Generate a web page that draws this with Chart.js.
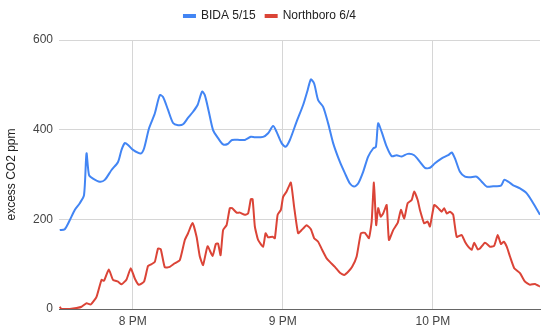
<!DOCTYPE html>
<html>
<head>
<meta charset="utf-8">
<script src="https://cdn.jsdelivr.net/npm/chart.js@4/dist/chart.umd.min.js"></script>
<style>
  html, body { margin: 0; padding: 0; background: #fff; }
  #wrap { width: 550px; height: 335px; position: relative; }
</style>
</head>
<body>
<div id="wrap"><canvas id="co2Chart"></canvas></div>
<script>
// minutes after 7 PM
const bidaTimes = [30.8, 32.8, 34.8, 36.8, 38.8, 40.5, 41.5, 42.5, 44.1, 46.8, 48.8, 51.5, 54.1, 55.5, 56.8, 58.1,
  60.1, 63.2, 64.5, 66.5, 68.8, 70.8, 72.1, 74.1, 76.1, 78.1, 80.1, 81.9, 84.1, 85.9, 87.7, 88.8, 90.4, 92.1,
  94.1, 96.1, 97.9, 99.7, 102.8, 104.8, 107.2, 108.8, 112.1, 114.1, 116.1, 117.5, 119.5, 121.1, 122.8, 125.5,
  128.1, 129.9, 131.2, 132.5, 134.1, 136.1, 138.1, 140.1, 142.8, 144.8, 146.8, 148.5, 150.1, 152.1, 154.1,
  156.1, 157.2, 158.1, 159.5, 161.5, 163.5, 165.5, 167.5, 169.9, 172.5, 174.8, 176.8, 178.8, 180.8, 183.5,
  186.1, 187.5, 188.8, 190.8, 192.8, 194.8, 197.5, 199.5, 201.5, 204.1, 207.2, 208.5, 210.1, 212.1, 214.8,
  217.5, 220.1, 222.8];
const bidaValues = [176, 178, 198, 221, 236, 254, 347, 299, 291, 284, 288, 310, 328, 355, 370, 366,
  355, 347, 358, 403, 436, 477, 473, 444, 415, 410, 412, 425, 440, 455, 485, 477, 440, 399,
  381, 367, 368, 377, 377, 377, 384, 383, 384, 392, 408, 395, 370, 362, 377, 418,
  455, 488, 512, 503, 466, 451, 414, 370, 328, 303, 280, 273, 280, 306, 340,
  358, 362, 414, 395, 362, 341, 343, 340, 346, 343, 328, 315, 315, 325, 336,
  343, 349, 336, 306, 295, 294, 295, 284, 273, 274, 275, 288, 284, 276, 269,
  258, 236, 210];

const northboroTimes = [30.8, 31.5, 34.8, 37.5, 39.5, 41.5, 43.2, 45.5, 47.5, 48.5, 50.4, 52.1, 54.1, 55.5, 57.5,
  59.2, 60.8, 62.4, 64.5, 66.1, 67.5, 68.8, 70.1, 71.2, 72.8, 74.8, 76.8, 78.8, 80.8, 82.1, 83.9, 85.5,
  86.8, 88.1, 89.9, 91.9, 93.2, 94.1, 95.1, 96.1, 97.5, 98.8, 99.7, 101.5, 102.8, 104.8, 106.1, 107.2,
  107.9, 108.8, 110.1, 112.1, 113.1, 114.1, 115.9, 116.8, 117.9, 119.2, 120.1, 121.5, 123.2, 124.5,
  126.1, 127.5, 129.5, 131.2, 132.5, 134.1, 135.7, 137.5, 138.8, 140.8, 142.8, 144.5, 146.1, 147.7,
  149.5, 151.2, 152.8, 154.4, 155.5, 156.4, 157.3, 158.1, 159.1, 160.1, 161.5, 162.4, 164.1, 165.9,
  167.2, 168.5, 169.9, 171.5, 172.5, 173.9, 174.8, 176.5, 177.9, 178.8, 180.5, 182.1, 183.5, 184.5,
  185.5, 186.8, 188.1, 189.5, 191.5, 192.8, 194.1, 195.5, 196.5, 197.9, 198.8, 200.8, 202.8, 204.5,
  205.9, 207.2, 208.3, 209.5, 210.8, 212.5, 214.8, 216.8, 218.8, 220.8, 222.8];
const northboroValues = [5, 0, 0, 2, 5, 13, 10, 27, 65, 63, 88, 65, 61, 55, 66,
  91, 68, 54, 61, 96, 100, 105, 135, 133, 93, 94, 102, 109, 154, 169, 192, 161,
  117, 98, 140, 118, 145, 146, 120, 176, 187, 225, 225, 215, 215, 210, 213, 245,
  245, 184, 154, 139, 169, 160, 161, 158, 210, 221, 250, 262, 282, 228,
  169, 176, 187, 178, 158, 150, 132, 113, 105, 94, 81, 76, 83, 94,
  117, 169, 170, 158, 195, 282, 187, 225, 206, 213, 232, 154, 176, 192,
  221, 202, 236, 243, 262, 243, 221, 191, 195, 184, 232, 225, 217, 225,
  213, 217, 210, 161, 165, 150, 139, 132, 148, 133, 135, 148, 139, 141,
  165, 145, 150, 139, 117, 91, 80, 61, 54, 56, 50];

const tickMinutes = [60, 120, 180];
const tickLabels = ['8 PM', '9 PM', '10 PM'];
const yTicks = [0, 200, 400, 600];

function toPoints(times, values) {
    return times.map((t, i) => ({ x: t, y: values[i] }));
}

const fontFamily = "'Liberation Sans', Arial, sans-serif";

// force legend height so the plot starts at the right place
const legendHeight = {
    id: 'legendHeight',
    beforeInit(chart) {
        const origFit = chart.legend.fit;
        chart.legend.fit = function() {
            origFit.bind(chart.legend)();
            this.height = 40;
        };
    }
};

const ctx = document.getElementById('co2Chart').getContext('2d');
new Chart(ctx, {
    type: 'line',
    data: {
        datasets: [{
            label: 'BIDA 5/15',
            data: toPoints(bidaTimes, bidaValues),
            borderColor: '#4285f4',
            backgroundColor: '#4285f4',
            borderWidth: 2,
            pointRadius: 0,
            tension: 0.25,
            fill: false
        }, {
            label: 'Northboro 6/4',
            data: toPoints(northboroTimes, northboroValues),
            borderColor: '#db4437',
            backgroundColor: '#db4437',
            borderWidth: 2,
            pointRadius: 0,
            tension: 0.15,
            fill: false
        }]
    },
    options: {
        responsive: true,
        maintainAspectRatio: false,
        animation: false,
        layout: { padding: { left: 0, right: 10, top: 0, bottom: 0 } },
        plugins: {
            legend: {
                position: 'top',
                align: 'center',
                labels: {
                    boxWidth: 11,
                    boxHeight: 2,
                    padding: 10,
                    color: '#222',
                    font: { family: fontFamily, size: 12 }
                }
            },
            tooltip: { enabled: false }
        },
        scales: {
            x: {
                type: 'linear',
                min: 30.5,
                max: 222.8,
                afterBuildTicks: function(scale) {
                    scale.ticks = tickMinutes.map(v => ({ value: v }));
                },
                afterFit: function(scale) { scale.height = 26; },
                ticks: {
                    autoSkip: false,
                    maxRotation: 0,
                    padding: 5,
                    color: '#444',
                    font: { family: fontFamily, size: 12 },
                    callback: function(value) {
                        const i = tickMinutes.indexOf(value);
                        return i >= 0 ? tickLabels[i] : '';
                    }
                },
                grid: { color: '#d6d6d6', drawTicks: false },
                border: { display: true, color: '#666', width: 1 }
            },
            y: {
                min: 0,
                max: 600,
                afterBuildTicks: function(scale) {
                    scale.ticks = yTicks.map(v => ({ value: v }));
                },
                afterFit: function(scale) { scale.width = 59; },
                ticks: {
                    padding: 6,
                    color: '#444',
                    font: { family: fontFamily, size: 12 }
                },
                grid: { color: '#d6d6d6', drawTicks: false },
                border: { display: false },
                title: {
                    display: true,
                    text: 'excess CO2 ppm',
                    color: '#222',
                    padding: { top: 4, bottom: 0 },
                    font: { family: fontFamily, size: 12 }
                }
            }
        }
    },
    plugins: [legendHeight]
});
</script>
</body>
</html>
